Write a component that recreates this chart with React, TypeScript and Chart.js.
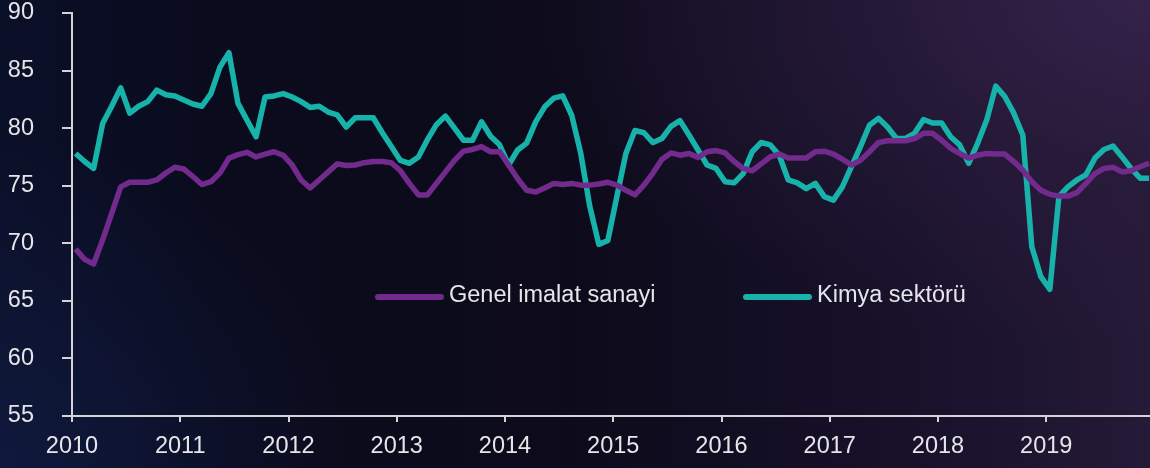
import { useEffect, useRef } from "react";
import { Chart, registerables } from "chart.js";

Chart.register(...registerables);

// ---- data ----
const startYear = 2010;
const endYear = 2019;
const yMin = 55;
const yMax = 90;
const yStep = 5;

const seriesLabels = ["Genel imalat sanayi", "Kimya sektörü"];
const seriesColors = ["#722a8c", "#17b3aa"];

// monthly values Jan 2010 - Dec 2019
const genelImalat = [
  69.5, 68.6, 68.2, 70.3, 72.6, 74.9, 75.3, 75.3, 75.3, 75.5, 76.1, 76.6,
  76.45, 75.8, 75.1, 75.35, 76.1, 77.4, 77.7, 77.9, 77.5, 77.75, 77.95, 77.65,
  76.8, 75.5, 74.8, 75.5, 76.2, 76.9, 76.75, 76.8, 77.0, 77.1, 77.1, 77.0,
  76.3, 75.2, 74.2, 74.2, 75.2, 76.2, 77.2, 78.0, 78.15, 78.4, 77.95, 77.95,
  76.8, 75.6, 74.6, 74.45, 74.8, 75.2, 75.1, 75.2, 75.05, 75.05, 75.15, 75.3,
  75.05, 74.6, 74.2, 75.05, 76.1, 77.3, 77.85, 77.65, 77.8, 77.45, 77.95, 78.05,
  77.85, 77.1, 76.5, 76.3, 76.9, 77.5, 77.75, 77.4, 77.4, 77.4, 77.95, 78.0,
  77.75, 77.3, 76.8, 77.2, 77.95, 78.75, 78.9, 78.9, 78.9, 79.1, 79.55, 79.55,
  78.95, 78.25, 77.8, 77.4, 77.65, 77.8, 77.75, 77.75, 77.1, 76.35, 75.35, 74.6,
  74.25, 74.1, 74.1, 74.4, 75.2, 76.05, 76.5, 76.6, 76.2, 76.3, 76.65, 76.95,
];

const kimyaSektoru = [
  77.8, 77.1, 76.5, 80.4, 81.9, 83.5, 81.3, 81.9, 82.3, 83.3, 82.9, 82.8,
  82.45, 82.1, 81.9, 83.0, 85.3, 86.55, 82.15, 80.7, 79.25, 82.7, 82.8, 83.0,
  82.7, 82.3, 81.8, 81.9, 81.4, 81.15, 80.1, 80.9, 80.9, 80.9, 79.6, 78.4,
  77.2, 76.95, 77.5, 79.0, 80.3, 81.05, 80.0, 78.95, 78.95, 80.55, 79.3, 78.55,
  76.8, 78.1, 78.7, 80.55, 81.85, 82.6, 82.8, 81.1, 77.8, 73.2, 69.9, 70.25,
  74.05, 77.8, 79.8, 79.6, 78.75, 79.1, 80.15, 80.65, 79.4, 78.1, 76.8, 76.5,
  75.35, 75.25, 76.05, 77.95, 78.75, 78.55, 77.65, 75.5, 75.25, 74.75, 75.2, 74.05,
  73.75, 74.9, 76.65, 78.4, 80.25, 80.85, 80.1, 79.1, 79.1, 79.55, 80.75, 80.45,
  80.45, 79.25, 78.55, 76.95, 78.7, 80.7, 83.65, 82.75, 81.3, 79.4, 69.7, 67.1,
  66.0, 74.05, 74.9, 75.5, 75.95, 77.4, 78.15, 78.45, 77.5, 76.5, 75.65, 75.65,
];

const FONT = "'Liberation Sans', Arial, sans-serif";
const FONT_SIZE = 23.5;
const TEXT_COLOR = "#e6e6ea";
const AXIS_COLOR = "#d4d4d8";

function toPoints(values: number[]) {
  return values.map((v, i) => ({ x: startYear + (i + 0.4) / 12, y: v }));
}

const legendPlugin = {
  id: "inlineLegend",
  afterDatasetsDraw(chart: any) {
    const ctx = chart.ctx;
    const legendY = 297;
    const starts = [375, 743];
    const lineLen = 69;
    ctx.save();
    chart.data.datasets.forEach((ds: any, idx: number) => {
      const x0 = starts[idx];
      ctx.beginPath();
      ctx.lineCap = "round";
      ctx.lineWidth = 6;
      ctx.strokeStyle = ds.borderColor;
      ctx.moveTo(x0 + 3, legendY);
      ctx.lineTo(x0 + lineLen - 3, legendY);
      ctx.stroke();
      ctx.fillStyle = TEXT_COLOR;
      ctx.font = `normal ${FONT_SIZE}px ${FONT}`;
      ctx.textBaseline = "middle";
      ctx.textAlign = "left";
      ctx.fillText(ds.label, x0 + lineLen + 5, legendY - 1);
    });
    ctx.restore();
  },
};

export default function App() {
  const canvasRef = useRef<HTMLCanvasElement | null>(null);

  useEffect(() => {
    if (!canvasRef.current) return;
    const chart = new Chart(canvasRef.current, {
      type: "line",
      data: {
        datasets: [
          {
            label: seriesLabels[0],
            data: toPoints(genelImalat),
            borderColor: seriesColors[0],
            backgroundColor: seriesColors[0],
            borderWidth: 5.5,
            pointRadius: 0,
            tension: 0,
            borderJoinStyle: "round",
            fill: false,
          },
          {
            label: seriesLabels[1],
            data: toPoints(kimyaSektoru),
            borderColor: seriesColors[1],
            backgroundColor: seriesColors[1],
            borderWidth: 5.5,
            pointRadius: 0,
            tension: 0,
            borderJoinStyle: "round",
            fill: false,
          },
        ],
      },
      options: {
        animation: false,
        responsive: false,
        layout: { padding: { top: 13, left: 0, right: 0, bottom: 0 } },
        plugins: {
          legend: { display: false },
          tooltip: { enabled: false },
        },
        scales: {
          x: {
            type: "linear",
            min: startYear,
            max: endYear + 11.5 / 12,
            afterFit: (scale: any) => {
              scale.height = 52;
              scale.paddingLeft = 0;
              scale.paddingRight = 0;
            },
            ticks: {
              stepSize: 1,
              includeBounds: false,
              autoSkip: false,
              maxRotation: 0,
              color: TEXT_COLOR,
              padding: 10,
              font: { family: FONT, size: FONT_SIZE, weight: "normal" },
              callback: (v: any) => String(Math.round(Number(v))),
            },
            grid: {
              drawOnChartArea: false,
              drawTicks: true,
              tickLength: 6,
              color: AXIS_COLOR,
              lineWidth: 2,
            },
            border: { display: true, color: AXIS_COLOR, width: 2 },
          },
          y: {
            type: "linear",
            min: yMin,
            max: yMax,
            afterFit: (scale: any) => {
              scale.width = 72;
              scale.paddingTop = 0;
              scale.paddingBottom = 0;
            },
            ticks: {
              stepSize: yStep,
              color: TEXT_COLOR,
              padding: 28,
              font: { family: FONT, size: FONT_SIZE, weight: "normal" },
            },
            grid: {
              drawOnChartArea: false,
              drawTicks: true,
              tickLength: 10,
              color: AXIS_COLOR,
              lineWidth: 2,
            },
            border: { display: true, color: AXIS_COLOR, width: 2 },
          },
        },
      },
      plugins: [legendPlugin],
    } as any);
    return () => chart.destroy();
  }, []);

  return (
    <div
      style={{
        position: "fixed",
        left: 0,
        top: 0,
        width: 1150,
        height: 468,
        background:
          "radial-gradient(ellipse 55% 75% at 100% 0%, rgba(52,34,74,1) 0%, rgba(44,29,62,0.6) 45%, rgba(30,20,45,0) 100%), radial-gradient(ellipse 30% 70% at 0% 100%, rgba(16,26,62,0.9) 0%, rgba(16,26,62,0) 100%), linear-gradient(90deg, #0b1029 0%, #0a0b1d 18%, #0d0b1b 50%, #17112a 78%, #251a37 100%)",
      }}
    >
      <canvas ref={canvasRef} width={1150} height={468} />
    </div>
  );
}
